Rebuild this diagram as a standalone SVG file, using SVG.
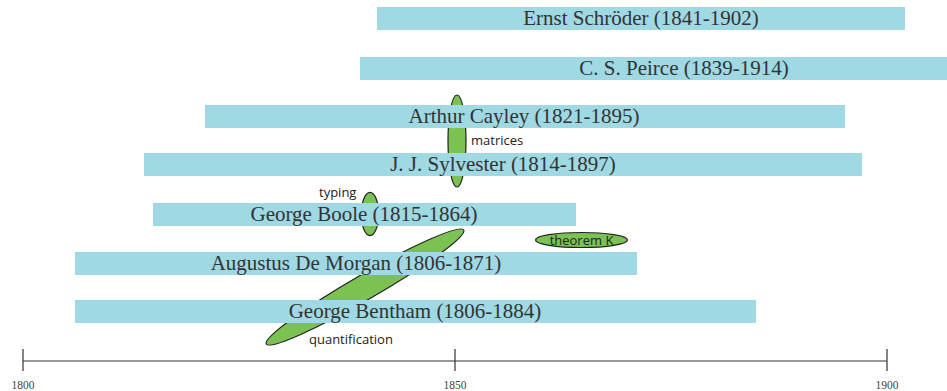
<svg xmlns="http://www.w3.org/2000/svg" width="947" height="391" viewBox="0 0 947 391">
<style>
.bar{fill:#9fd9e4}
.name{font-family:"Liberation Serif","DejaVu Serif",serif;font-size:21px;fill:#333;text-anchor:middle}
.blob{fill:#7bc253;stroke:#222;stroke-width:1.2}
.lbl{font-family:"Open Sans","Liberation Sans",sans-serif;font-size:13px;fill:#222}
.axis{stroke:#333;stroke-width:1.2;fill:none}
.yr{font-family:"Liberation Serif","DejaVu Serif",serif;font-size:11.5px;fill:#444;text-anchor:middle}
</style>
<rect width="947" height="391" fill="#fff"/>
<g id="connectors">
<ellipse id="quantification-blob" class="blob" cx="365" cy="287" rx="114" ry="12.5" transform="rotate(-30 365 287)"/>
<ellipse id="matrices-blob" class="blob" cx="457" cy="141" rx="9" ry="46"/>
<ellipse id="typing-blob" class="blob" cx="370" cy="214" rx="8.7" ry="21.7"/>
</g>
<g id="schroder"><rect class="bar" x="377" y="7" width="528" height="23"/><text class="name" x="641" y="25">Ernst Schröder (1841-1902)</text></g>
<g id="peirce"><rect class="bar" x="360" y="57" width="587" height="23"/><text class="name" x="684" y="75">C. S. Peirce (1839-1914)</text></g>
<g id="cayley"><rect class="bar" x="205" y="105" width="640" height="23"/><text class="name" x="524" y="123">Arthur Cayley (1821-1895)</text></g>
<g id="sylvester"><rect class="bar" x="144" y="153" width="718" height="23"/><text class="name" x="503" y="171">J. J. Sylvester (1814-1897)</text></g>
<g id="boole"><rect class="bar" x="153" y="203" width="423" height="23"/><text class="name" x="364" y="221">George Boole (1815-1864)</text></g>
<g id="demorgan"><rect class="bar" x="75" y="252" width="562" height="23"/><text class="name" x="356" y="270">Augustus De Morgan (1806-1871)</text></g>
<g id="bentham"><rect class="bar" x="75" y="300" width="681" height="23"/><text class="name" x="415" y="318">George Bentham (1806-1884)</text></g>
<g id="theoremK"><ellipse class="blob" cx="581.5" cy="240" rx="46" ry="7.5"/><text class="lbl" x="581.5" y="244.5" text-anchor="middle">theorem K</text></g>
<g id="labels">
<text class="lbl" x="471" y="145">matrices</text>
<text class="lbl" x="319" y="197">typing</text>
<text class="lbl" x="309" y="344">quantification</text>
</g>
<g id="axis">
<line class="axis" x1="23" y1="361" x2="887" y2="361"/>
<line class="axis" x1="23" y1="349" x2="23" y2="371"/>
<line class="axis" x1="455" y1="349" x2="455" y2="371"/>
<line class="axis" x1="887" y1="349" x2="887" y2="371"/>
<text class="yr" x="23" y="389">1800</text>
<text class="yr" x="455" y="389">1850</text>
<text class="yr" x="887" y="389">1900</text>
</g>
</svg>
